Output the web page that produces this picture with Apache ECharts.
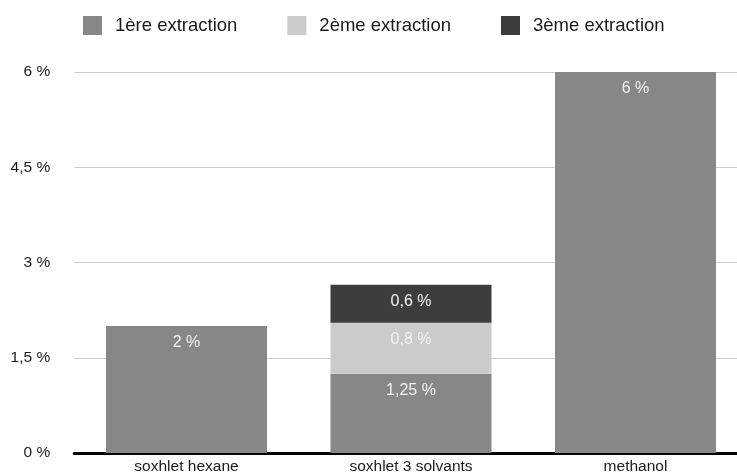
<!DOCTYPE html>
<html>
<head>
<meta charset="utf-8">
<script src="https://cdn.jsdelivr.net/npm/echarts@6/dist/echarts.min.js"></script>
<style>
  html, body { margin: 0; padding: 0; background: #ffffff; }
  #chart { width: 737px; height: 474px; }
</style>
</head>
<body>
<div id="chart"></div>
<script>
// Extraction yields (%) per method, one series per extraction pass
const categories = ['soxhlet hexane', 'soxhlet 3 solvants', 'methanol'];
const seriesNames = ['1ère extraction', '2ème extraction', '3ème extraction'];
const firstExtraction = [2, 1.25, 6];
const secondExtraction = [null, 0.8, null];
const thirdExtraction = [null, 0.6, null];
const yTicks = [0, 1.5, 3, 4.5, 6];

const colors = ['#878787', '#cbcbcb', '#3d3d3d'];
const FONT = '"Liberation Sans", Arial, Helvetica, sans-serif';

// French number formatting: decimal comma, spaced percent sign
function pct(v) {
  return String(v).replace('.', ',') + ' %';
}

function barSeries(name, values, color) {
  return {
    name: name,
    type: 'bar',
    stack: 'total',
    barWidth: 161,
    data: values.map(v => (v === null ? '-' : v)),
    itemStyle: { color: color },
    label: {
      show: true,
      position: 'insideTop',
      distance: 9,
      color: '#f2f2f2',
      fontFamily: FONT,
      fontSize: 16,
      formatter: p => pct(p.value)
    }
  };
}

const chart = echarts.init(document.getElementById('chart'), null, { renderer: 'canvas' });
chart.setOption({
  animation: false,
  backgroundColor: '#ffffff',
  color: colors,
  legend: {
    left: 83,
    top: 16,
    padding: 0,
    icon: 'rect',
    itemWidth: 19,
    itemHeight: 19,
    itemGap: 50,
    data: seriesNames,
    textStyle: {
      fontFamily: FONT,
      fontSize: 18.5,
      color: '#1a1a1a',
      padding: [0, 0, 0, 8]
    }
  },
  grid: {
    left: 74.25,
    top: 72,
    width: 673.5,
    height: 381,
    containLabel: false,
    outerBoundsMode: 'none'
  },
  xAxis: {
    type: 'category',
    data: categories,
    offset: 2,
    axisLine: { show: true, lineStyle: { color: '#000000', width: 3 } },
    axisTick: { show: false },
    axisLabel: {
      margin: 4,
      fontFamily: FONT,
      fontSize: 15.5,
      color: '#1a1a1a'
    }
  },
  yAxis: {
    type: 'value',
    min: yTicks[0],
    max: yTicks[yTicks.length - 1],
    interval: yTicks[1] - yTicks[0],
    axisLine: { show: false },
    axisTick: { show: false },
    splitLine: { lineStyle: { color: '#cccccc', width: 1 } },
    axisLabel: {
      margin: 24,
      fontFamily: FONT,
      fontSize: 15.5,
      color: '#1a1a1a',
      formatter: v => pct(v)
    }
  },
  series: [
    barSeries(seriesNames[0], firstExtraction, colors[0]),
    barSeries(seriesNames[1], secondExtraction, colors[1]),
    barSeries(seriesNames[2], thirdExtraction, colors[2])
  ]
});
</script>
</body>
</html>
